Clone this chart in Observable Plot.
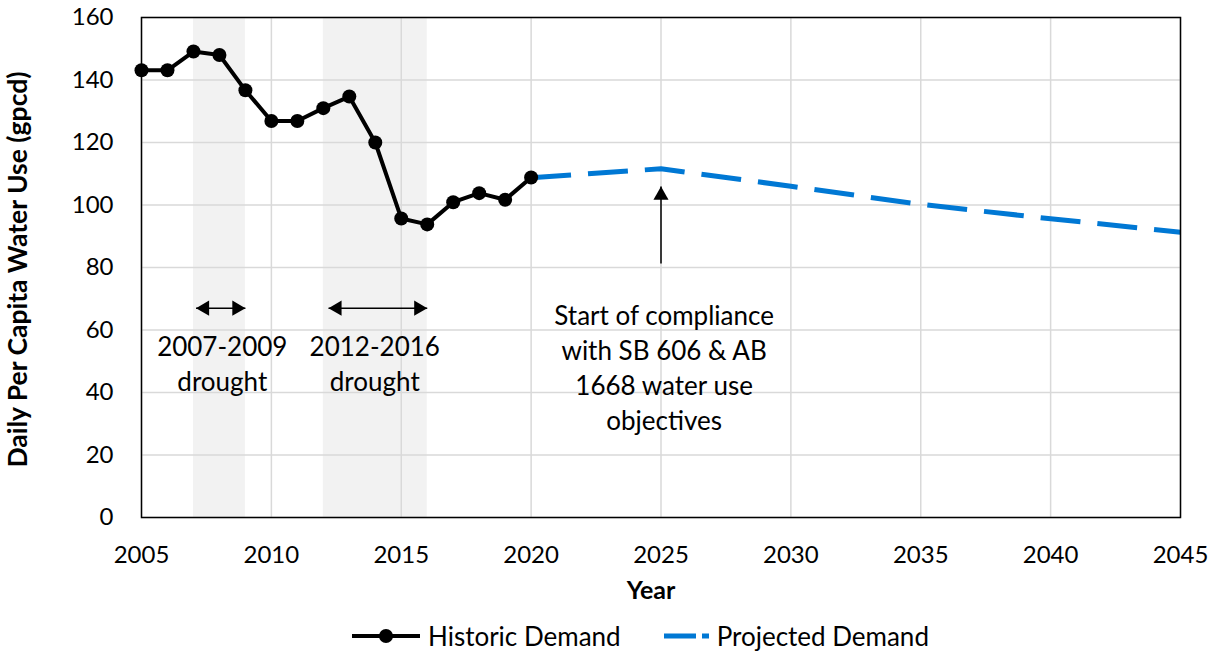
<!DOCTYPE html>
<html><head><meta charset="utf-8">
<script src="https://cdn.jsdelivr.net/npm/d3@7"></script>
<script src="https://cdn.jsdelivr.net/npm/@observablehq/plot@0.6"></script>
<style>
body{margin:0;background:#fff;font-family:Lato,"Open Sans",sans-serif;color:#000;}
#wrap{position:relative;width:1214px;height:651px;}
#legend{position:absolute;left:352px;top:620px;height:32px;display:flex;align-items:center;font:26px Lato,sans-serif;color:#000;}
#legend span{white-space:nowrap;}
</style></head><body>
<div id="wrap"><div id="chart"></div><div id="legend"></div></div>
<script>
// ---- data ----
const historicYears = [2005,2006,2007,2008,2009,2010,2011,2012,2013,2014,2015,2016,2017,2018,2019,2020];
const historicValues = [143.1,143.1,149.1,148.0,136.7,126.9,126.9,131.0,134.7,120.0,95.7,93.8,100.9,103.8,101.7,108.8];
const projectedYears = [2020,2025,2030,2035,2040,2045];
const projectedValues = [108.7,111.6,106.0,100.2,95.6,91.3];
const droughtStart = [2007,2012];
const droughtEnd = [2009,2016];
const droughtArrowFrom = [2007.1,2012.2];
const droughtArrowTo = [2009.0,2016.0];
const droughtArrowLevel = [67,67];
const droughtLabels = ["2007-2009\ndrought","2012-2016\ndrought"];
const droughtLabelX = [2008.11,2013.98];
const droughtLabelY = [59.7,59.7];
const complianceX = [2025];
const complianceFrom = [81.3];
const complianceTo = [105.9];
const complianceLabel = ["Start of compliance\nwith SB 606 & AB\n1668 water use\nobjectives"];
const complianceLabelX = [2025.12];
const complianceLabelY = [69.6];
const xTicks = [2005,2010,2015,2020,2025,2030,2035,2040,2045];
const yTicks = [0,20,40,60,80,100,120,140,160];
const seriesNames = ["Historic Demand","Projected Demand"];

// ---- tables ----
const hist = historicYears.map((x,i)=>({x, y: historicValues[i]}));
const proj = projectedYears.map((x,i)=>({x, y: projectedValues[i]}));
const droughts = droughtStart.map((s,i)=>({s, e: droughtEnd[i], a1: droughtArrowFrom[i], a2: droughtArrowTo[i], ay: droughtArrowLevel[i], label: droughtLabels[i], lx: droughtLabelX[i], ly: droughtLabelY[i]}));
const comp = complianceX.map((x,i)=>({x, y1: complianceFrom[i], y2: complianceTo[i], label: complianceLabel[i], lx: complianceLabelX[i], ly: complianceLabelY[i]}));

const HEAD_R = 5.6; // triangle head
const TIP = 2*Math.sqrt(Math.PI*HEAD_R*HEAD_R/(3*Math.sqrt(3)));

const chart = Plot.plot({
  width: 1214, height: 605,
  marginLeft: 141, marginRight: 34, marginTop: 17, marginBottom: 88,
  style: {fontFamily: "Lato, sans-serif", color: "#000", background: "#fff"},
  x: {domain: [2005,2045]},
  y: {domain: [0,160]},
  marks: [
    Plot.rect(droughts, {x1: "s", x2: "e", y1: 0, y2: 160, fill: "#f2f2f2"}),
    Plot.gridX(xTicks, {stroke: "#d9d9d9", strokeOpacity: 1, strokeWidth: 1.5}),
    Plot.gridY(yTicks, {stroke: "#d9d9d9", strokeOpacity: 1, strokeWidth: 1.5}),
    Plot.axisX(xTicks, {tickSize: 0, tickPadding: 28, fontSize: 24, tickFormat: d=>String(d), label: null}),
    Plot.axisY(yTicks, {tickSize: 0, tickPadding: 28, fontSize: 24, label: null}),
    Plot.text(["Year"], {frameAnchor: "bottom", lineAnchor: "bottom", dx: -10, dy: 81, fontSize: 25, fontWeight: "bold", fill: "#000"}),
    Plot.text(["Daily Per Capita Water Use (gpcd)"], {frameAnchor: "left", textAnchor: "middle", lineAnchor: "middle", dx: -123, dy: 2, rotate: -90, fontSize: 26.5, fontWeight: "bold", fill: "#000"}),
    // drought arrows
    Plot.link(droughts, {x1: "a1", x2: "a2", y1: "ay", y2: "ay", stroke: "#000", strokeWidth: 1.5}),
    Plot.dot(droughts, {x: "a1", y: "ay", symbol: "triangle", r: HEAD_R, fill: "#000", stroke: null, rotate: -90, dx: TIP}),
    Plot.dot(droughts, {x: "a2", y: "ay", symbol: "triangle", r: HEAD_R, fill: "#000", stroke: null, rotate: 90, dx: -TIP}),
    Plot.text(droughts, {x: "lx", y: "ly", text: "label", fontSize: 26, lineAnchor: "top", lineHeight: 1.346, fill: "#000"}),
    // compliance arrow
    Plot.link(comp, {x1: "x", x2: "x", y1: "y1", y2: "y2", stroke: "#000", strokeWidth: 1.5}),
    Plot.dot(comp, {x: "x", y: "y2", symbol: "triangle", r: HEAD_R, fill: "#000", stroke: null, dy: TIP}),
    Plot.text(comp, {x: "lx", y: "ly", text: "label", fontSize: 26, lineAnchor: "top", lineHeight: 1.346, fill: "#000"}),
    // series
    Plot.line(proj, {x: "x", y: "y", stroke: "#0078d4", strokeWidth: 5, strokeDasharray: "40,17", strokeLinecap: "butt"}),
    Plot.line(hist, {x: "x", y: "y", stroke: "#000", strokeWidth: 4}),
    Plot.dot(hist, {x: "x", y: "y", r: 7, fill: "#000", stroke: null}),
    Plot.frame({stroke: "#000", strokeWidth: 1.5})
  ]
});
document.getElementById("chart").appendChild(chart);

const legend = document.getElementById("legend");
legend.innerHTML =
  `<svg width="70" height="20" style="margin-right:6px"><line x1="0" x2="68" y1="10" y2="10" stroke="#000" stroke-width="4"/><circle cx="34" cy="10" r="7" fill="#000"/></svg>` +
  `<span>${seriesNames[0]}</span>` +
  `<span style="display:inline-block;width:43px"></span>` +
  `<svg width="47" height="20" style="margin-right:6px"><line x1="0" x2="45" y1="10" y2="10" stroke="#0078d4" stroke-width="5" stroke-dasharray="32,6"/></svg>` +
  `<span>${seriesNames[1]}</span>`;
</script>
</body></html>
